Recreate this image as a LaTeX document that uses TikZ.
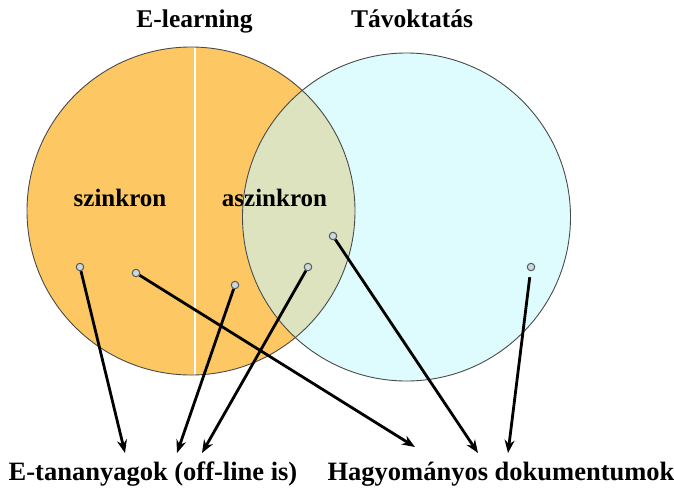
\documentclass[tikz,border=0pt]{standalone}
\usepackage{fontspec}
\setmainfont{Liberation Serif}
\usetikzlibrary{arrows.meta}
\definecolor{orangefill}{HTML}{FDC863}
\definecolor{cyanfill}{HTML}{DEFCFD}
\definecolor{overlapfill}{HTML}{DDE3BE}
\definecolor{dotfill}{HTML}{C9D9E1}
\definecolor{rimgrey}{HTML}{4A4A4A}
\tikzset{
  dotnode/.style={circle, draw=gray!70!black, fill=dotfill, line width=1pt, minimum size=7.5pt, inner sep=0pt},
  arrowline/.style={line width=2.8pt, -{Stealth[length=13pt,width=10pt]}},
  titletext/.style={font=\bfseries\fontsize{25.5}{28}\selectfont, anchor=base, inner sep=0pt},
  zonetext/.style={font=\bfseries\fontsize{25}{28}\selectfont, anchor=base, inner sep=0pt},
  labeltext/.style={font=\bfseries\fontsize{26.5}{30}\selectfont, anchor=base, inner sep=0pt},
}
\begin{document}
\begin{tikzpicture}[x=1pt,y=-1pt]
\useasboundingbox (0,0) rectangle (674,490);
% circles
\fill[orangefill] (191,211) circle (164);
\fill[cyanfill] (406.5,217) circle (164);
\begin{scope}
  \clip (191,211) circle (164);
  \fill[overlapfill] (406.5,217) circle (164);
\end{scope}
\begin{scope}
  \clip (191,211) circle (164);
  \draw[white, line width=2.2pt] (195,40) -- (195,380);
\end{scope}
\draw[rimgrey, line width=0.9pt] (191,211) circle (164);
\draw[rimgrey, line width=0.9pt] (406.5,217) circle (164);
% titles
\node[titletext] (tel) at (194.5,27) {E-learning};
\node[titletext] (ttav) at (412,27) {Távoktatás};
\node[zonetext] (szk) at (120,206) {szinkron};
\node[zonetext] (aszk) at (274.5,206) {aszinkron};
\node[labeltext] (etan) at (153,480) {E-tananyagok (off-line is)};
\node[labeltext] (hagy) at (501,480) {Hagyományos dokumentumok};
% dots
\node[dotnode] (d1) at (80,267) {};
\node[dotnode] (d2) at (136,273) {};
\node[dotnode] (d3) at (235,285) {};
\node[dotnode] (d4) at (308,267) {};
\node[dotnode] (d5) at (333,236) {};
\node[dotnode] (d6) at (531,267) {};
% arrow tips
\coordinate (t1) at (125,453);
\coordinate (t2) at (177,453);
\coordinate (t3) at (202,453);
\coordinate (t4) at (415,447);
\coordinate (t5) at (478,453);
\coordinate (t6) at (508,453);
\draw[arrowline] (d1) -- (t1);
\draw[arrowline] (d3) -- (t2);
\draw[arrowline] (d4) -- (t3);
\draw[arrowline] (d2) -- (t4);
\draw[arrowline] (d5) -- (t5);
\draw[arrowline, shorten <=6pt] (d6) -- (t6);
\end{tikzpicture}
\end{document}
